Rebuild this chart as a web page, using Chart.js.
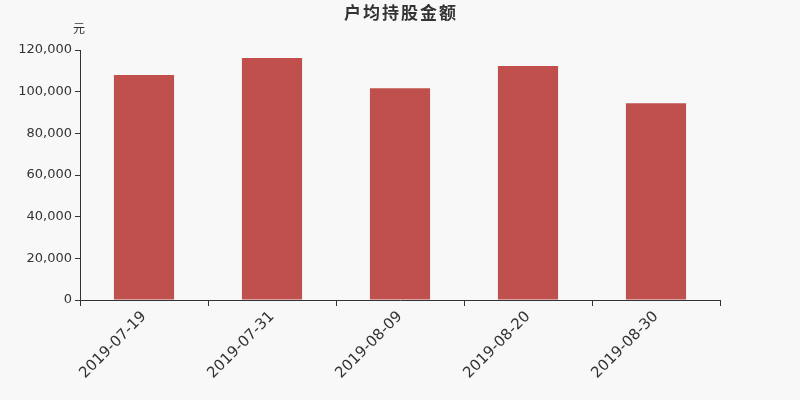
<!DOCTYPE html>
<html>
<head>
<meta charset="utf-8">
<script src="https://cdn.jsdelivr.net/npm/chart.js@4"></script>
<style>
  html, body { margin: 0; padding: 0; background: #f8f8f8; }
  #wrap { width: 800px; height: 400px; }
</style>
</head>
<body>
<div id="wrap"><canvas id="myChart" width="800" height="400"></canvas></div>
<script>
const dates = ['2019-07-19', '2019-07-31', '2019-08-09', '2019-08-20', '2019-08-30'];
const amounts = [108000, 116200, 101600, 112300, 94500];
const yTicks = [0, 20000, 40000, 60000, 80000, 100000, 120000];
const chartTitle = '户均持股金额';
const unitLabel = '元';

const textColor = '#333333';
const fontFamily = '"DejaVu Sans", "Noto Sans CJK SC", sans-serif';

// title and unit text drawn onto the canvas
const headerText = {
    id: 'headerText',
    afterDraw(chart) {
        const c = chart.ctx;
        const y = chart.scales.y;
        c.save();
        c.fillStyle = textColor;
        c.textAlign = 'center';
        c.textBaseline = 'middle';
        c.font = 'bold 17px "Noto Sans CJK SC", sans-serif';
        c.letterSpacing = '2px';
        c.fillText(chartTitle, 401, 13);
        c.letterSpacing = '0px';
        c.font = '12px "Noto Sans CJK SC", sans-serif';
        c.fillText(unitLabel, y.right - 1, 28);
        c.restore();
    }
};

const ctx = document.getElementById('myChart');
const myChart = new Chart(ctx, {
    type: 'bar',
    data: {
        labels: dates,
        datasets: [{
            data: amounts,
            backgroundColor: '#c0504d',
            borderWidth: 0,
            barPercentage: 0.47,
            categoryPercentage: 1
        }]
    },
    options: {
        responsive: false,
        animation: false,
        layout: {
            padding: { top: 50, right: 80, left: 0, bottom: 0 }
        },
        scales: {
            x: {
                offset: true,
                grid: {
                    offset: true,
                    drawOnChartArea: false,
                    tickLength: 6,
                    color: textColor
                },
                border: { color: textColor, width: 1 },
                ticks: {
                    color: textColor,
                    minRotation: 45,
                    maxRotation: 45,
                    padding: 2,
                    font: { family: fontFamily, size: 15 }
                },
                afterFit(scale) { scale.height = 100; }
            },
            y: {
                min: 0,
                max: 120000,
                afterBuildTicks(scale) {
                    scale.ticks = yTicks.map(v => ({ value: v }));
                },
                grid: {
                    drawOnChartArea: false,
                    tickLength: 5,
                    color: textColor
                },
                border: { color: textColor, width: 1 },
                ticks: {
                    color: textColor,
                    padding: 3,
                    font: { family: fontFamily, size: 13 },
                    callback: v => v.toLocaleString('en-US')
                },
                afterFit(scale) { scale.width = 80; }
            }
        },
        plugins: {
            legend: { display: false },
            tooltip: { enabled: false }
        }
    },
    plugins: [headerText]
});
</script>
</body>
</html>
